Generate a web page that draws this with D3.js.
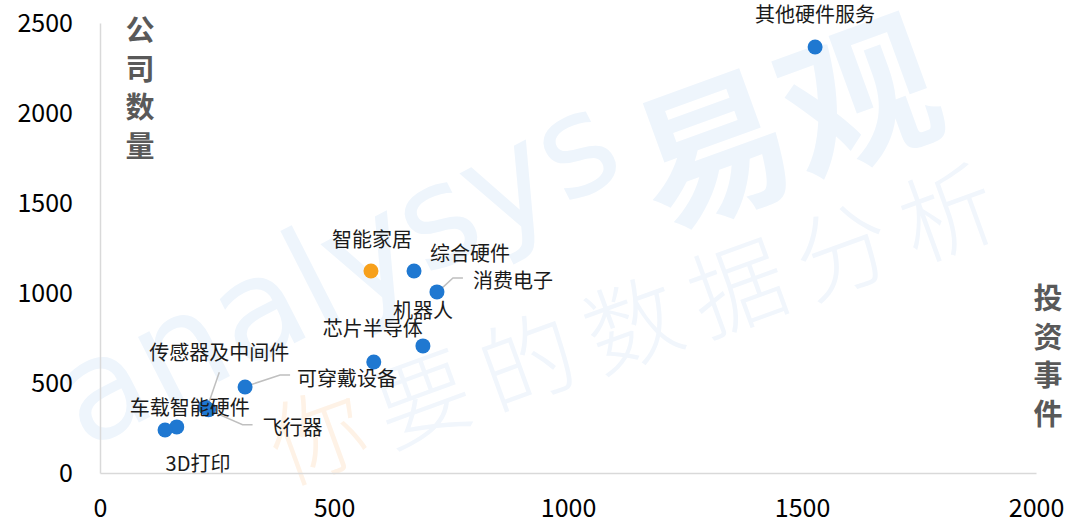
<!DOCTYPE html>
<html>
<head>
<meta charset="utf-8">
<script src="https://cdn.jsdelivr.net/npm/d3@7"></script>
<style>
  body { margin: 0; background: #fff; }
  svg { display: block; font-family: "Noto Sans CJK SC", "Noto Sans", sans-serif; }
</style>
</head>
<body>
<svg width="1076" height="527"></svg>
<script>
// data
const names = ["其他硬件服务", "智能家居", "综合硬件", "消费电子", "机器人", "芯片半导体",
    "可穿戴设备", "传感器及中间件", "车载智能硬件", "飞行器", "3D打印"];
const investEvents = [1528, 579, 671, 720, 690, 585, 310, 225, 164, 232, 139];
const companyCount = [2367, 1122, 1122, 1006, 706, 617, 478, 365, 256, 352, 239];
const highlight = ["智能家居"];
const xTicks = [0, 500, 1000, 1500, 2000];
const yTicks = [0, 500, 1000, 1500, 2000, 2500];

// label placement relative to the point: [dx, dy, anchor, leader points]
const labelLayout = {
    "其他硬件服务": [0, -33, "middle"],
    "智能家居": [1, -33, "middle"],
    "综合硬件": [56, -19, "middle"],
    "消费电子": [36, -12, "start", [[1, 0], [16, -14], [26, -14]]],
    "机器人": [0, -36, "middle"],
    "芯片半导体": [-1, -34, "middle"],
    "可穿戴设备": [52, -9, "start", [[2, -1], [35, -12], [45, -12]]],
    "传感器及中间件": [14, -56, "middle", [[3, -3], [14, -35]]],
    "车载智能硬件": [13, -20, "middle"],
    "飞行器": [54, 17, "start", [[4, 2], [34, 15], [44, 15]]],
    "3D打印": [33, 33, "middle"]
};

const svg = d3.select("svg");
const x = d3.scaleLinear().domain([0, 2000]).range([100, 1036]);
const y = d3.scaleLinear().domain([0, 2500]).range([473, 23]);

// watermark
const wm = svg.append("g").attr("class", "watermark");
wm.append("text")
    .attr("transform", "translate(85,450) rotate(-27)")
    .attr("font-family", "DejaVu Sans")
    .attr("font-size", 140)
    .attr("fill", "#eef5fc")
    .text("analysys");
wm.append("text")
    .attr("transform", "translate(660,230) rotate(-20)")
    .attr("font-size", 155)
    .attr("font-weight", "bold")
    .attr("fill", "#eef5fc")
    .text("易观");
const slogan = "你要的数据分析".split("");
slogan.forEach((c, i) => {
    wm.append("text")
        .attr("transform", `translate(${285 + i * 105},${485 - i * 37}) rotate(-20)`)
        .attr("font-size", 95)
        .attr("font-weight", 300)
        .attr("fill", i === 0 ? "#fef2e6" : "#f1f6fc")
        .text(c);
});

// axes
const xAxis = svg.append("g")
    .attr("transform", `translate(0,${y(0)})`)
    .call(d3.axisBottom(x).tickValues(xTicks).tickSize(0).tickPadding(26).tickFormat(d3.format("d")));
const yAxis = svg.append("g")
    .attr("transform", `translate(${x(0)},0)`)
    .call(d3.axisLeft(y).tickValues(yTicks).tickSize(0).tickPadding(27).tickFormat(d3.format("d")));
[xAxis, yAxis].forEach(a => {
    a.select(".domain").attr("stroke", "#d9d9d9").attr("stroke-width", 1.5);
    a.selectAll("text")
        .attr("font-family", "Noto Sans CJK SC")
        .attr("font-size", 25)
        .attr("fill", "#000");
});

// axis titles, stacked vertically
function vTitle(str, cx, top) {
    str.split("").forEach((c, i) => {
        svg.append("text")
            .attr("x", cx)
            .attr("y", top + i * 38.5)
            .attr("text-anchor", "middle")
            .attr("dominant-baseline", "central")
            .attr("font-size", 29)
            .attr("font-weight", "bold")
            .attr("fill", "#595959")
            .text(c);
    });
}
vTitle("公司数量", 140, 28);
vTitle("投资事件", 1048, 296);

const pts = names.map((n, i) => ({ name: n, x: investEvents[i], y: companyCount[i] }));

// leader lines
svg.append("g")
    .selectAll("polyline")
    .data(pts.filter(d => labelLayout[d.name][3]))
    .enter().append("polyline")
    .attr("points", d => labelLayout[d.name][3]
        .map(p => [x(d.x) + p[0], y(d.y) + p[1]].join(",")).join(" "))
    .attr("fill", "none")
    .attr("stroke", "#bfbfbf")
    .attr("stroke-width", 1.5);

// points
svg.append("g")
    .selectAll("circle")
    .data(pts)
    .enter().append("circle")
    .attr("cx", d => x(d.x))
    .attr("cy", d => y(d.y))
    .attr("r", 7.5)
    .attr("fill", d => highlight.includes(d.name) ? "#f7a01b" : "#1f78d1");

// labels
svg.append("g")
    .selectAll("text")
    .data(pts)
    .enter().append("text")
    .attr("x", d => x(d.x) + labelLayout[d.name][0])
    .attr("y", d => y(d.y) + labelLayout[d.name][1])
    .attr("text-anchor", d => labelLayout[d.name][2])
    .attr("dominant-baseline", "central")
    .attr("font-size", 20)
    .attr("fill", "#1a1a1a")
    .text(d => d.name);
</script>
</body>
</html>
